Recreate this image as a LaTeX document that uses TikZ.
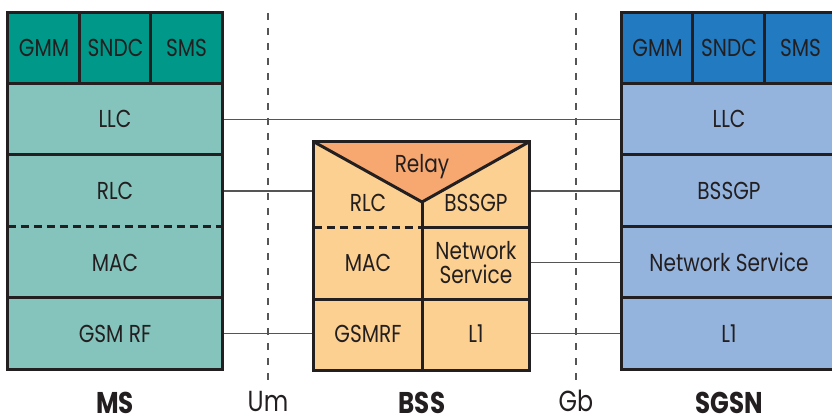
\documentclass[tikz,border=0pt]{standalone}
\usepackage{fontspec}
\setmainfont{Poppins}[FakeStretch=0.82]
\definecolor{msdark}{RGB}{0,152,136}
\definecolor{mslight}{RGB}{133,196,189}
\definecolor{sgdark}{RGB}{34,122,192}
\definecolor{sglight}{RGB}{148,180,222}
\definecolor{bssfill}{RGB}{252,208,144}
\definecolor{relayfill}{RGB}{246,168,112}
\definecolor{ink}{RGB}{35,31,32}
\definecolor{wire}{RGB}{85,85,85}
\tikzset{
  cell/.style={rectangle, inner sep=0pt, text=ink, minimum height=71pt},
  txt/.style={inner sep=0pt, text=ink},
  frame/.style={draw=ink, line width=3pt},
  split/.style={draw=ink, line width=3pt, dash pattern=on 8pt off 5pt},
  link/.style={draw=wire, line width=1.2pt},
  iface/.style={draw=wire, line width=1.3pt, dash pattern=on 7pt off 8pt},
  ifacelabel/.style={inner sep=0pt, text=ink, anchor=base, font=\fontsize{29}{31}\selectfont},
  title/.style={inner sep=0pt, text=ink, anchor=base, font=\fontsize{30}{32}\selectfont\bfseries},
}
\begin{document}
\begin{tikzpicture}[x=1pt, y=-1pt, font=\fontsize{24.5}{24}\selectfont]
\useasboundingbox (0,0) rectangle (832,414);
\clip (0,0) rectangle (832,414);

% ---------- MS protocol stack ----------
\node[cell, fill=msdark, minimum width=72pt]  (ms-gmm)  at (44,48)    {GMM};
\node[cell, fill=msdark, minimum width=71pt]  (ms-sndc) at (115.5,48) {SNDC};
\node[cell, fill=msdark, minimum width=71pt]  (ms-sms)  at (186.5,48) {SMS};
\node[cell, fill=mslight, minimum width=214pt, minimum height=71.5pt] (ms-llc)   at (115,119.25) {LLC};
\node[cell, fill=mslight, minimum width=214pt, minimum height=72pt]   (ms-rlc)   at (115,191)    {RLC};
\node[cell, fill=mslight, minimum width=214pt]                        (ms-mac)   at (115,262.5)  {MAC};
\node[cell, fill=mslight, minimum width=214pt, minimum height=71.5pt] (ms-gsmrf) at (115,333.75) {GSM RF};

% ---------- SGSN protocol stack ----------
\node[cell, fill=sgdark, minimum width=71pt]  (sg-gmm)  at (657.5,48) {GMM};
\node[cell, fill=sgdark, minimum width=72pt]  (sg-sndc) at (729,48)   {SNDC};
\node[cell, fill=sgdark, minimum width=71pt]  (sg-sms)  at (800.5,48) {SMS};
\node[cell, fill=sglight, minimum width=214pt, minimum height=71.5pt] (sg-llc)   at (729,119.25) {LLC};
\node[cell, fill=sglight, minimum width=214pt, minimum height=72pt]   (sg-bssgp) at (729,191)    {BSSGP};
\node[cell, fill=sglight, minimum width=214pt]                        (sg-ns)    at (729,262.5)  {Network Service};
\node[cell, fill=sglight, minimum width=214pt, minimum height=71.5pt] (sg-l1)    at (729,333.75) {L1};

% ---------- BSS relay stack ----------
\node[rectangle, inner sep=0pt, fill=bssfill, minimum width=215pt, minimum height=228pt] (bss) at (421.5,256) {};
\coordinate (apex) at (422,202);
\coordinate (bss-r1) at (422,227);
\coordinate (bss-r2) at (422,299);
\fill[relayfill] (bss.north west) -- (bss.north east) -- (apex) -- cycle;
\node[txt] (bss-relay) at (422,167) {Relay};
\node[txt] (bss-rlc)   at (368,203) {RLC};
\node[txt] (bss-bssgp) at (476,203) {BSSGP};
\node[txt] (bss-mac)   at (368,263) {MAC};
\node[txt, align=center] (bss-ns) at (476,263) {Network\\Service};
\node[txt] (bss-gsmrf) at (368,334) {GSMRF};
\node[txt] (bss-l1)    at (476,334) {L1};

% ---------- peer links ----------
\draw[link] (ms-llc.east) -- (sg-llc.west);
\draw[link] (ms-rlc.east) -- (ms-rlc.east -| bss.west);
\draw[link] (sg-bssgp.west) -- (sg-bssgp.west -| bss.east);
\draw[link] (sg-ns.west) -- (sg-ns.west -| bss.east);
\draw[link] (ms-gsmrf.east) -- (ms-gsmrf.east -| bss.west);
\draw[link] (sg-l1.west) -- (sg-l1.west -| bss.east);

% ---------- interfaces ----------
\coordinate (um-top) at (268,13);
\coordinate (um-bot) at (268,380);
\coordinate (gb-top) at (576,13);
\coordinate (gb-bot) at (576,380);
\draw[iface] (um-top) -- (um-bot);
\draw[iface] (gb-top) -- (gb-bot);
\node[ifacelabel] (um) at (268,411.5) {Um};
\node[ifacelabel] (gb) at (576,411.5) {Gb};

% ---------- frames: MS ----------
\draw[frame] (ms-gmm.north west) rectangle (ms-gsmrf.south east);
\draw[frame] (ms-sndc.north west) -- (ms-sndc.south west);
\draw[frame] (ms-sms.north west) -- (ms-sms.south west);
\draw[frame] (ms-llc.north west) -- (ms-llc.north east);
\draw[frame] (ms-rlc.north west) -- (ms-rlc.north east);
\draw[split] (ms-mac.north west) -- (ms-mac.north east);
\draw[frame] (ms-gsmrf.north west) -- (ms-gsmrf.north east);

% ---------- frames: SGSN ----------
\draw[frame] (sg-gmm.north west) rectangle (sg-l1.south east);
\draw[frame] (sg-sndc.north west) -- (sg-sndc.south west);
\draw[frame] (sg-sms.north west) -- (sg-sms.south west);
\draw[frame] (sg-llc.north west) -- (sg-llc.north east);
\draw[frame] (sg-bssgp.north west) -- (sg-bssgp.north east);
\draw[frame] (sg-ns.north west) -- (sg-ns.north east);
\draw[frame] (sg-l1.north west) -- (sg-l1.north east);

% ---------- frames: BSS ----------
\draw[frame] (bss.north west) rectangle (bss.south east);
\draw[frame, line join=miter] (bss.north west) -- (apex) -- (bss.north east);
\draw[frame] (apex) -- (apex |- bss.south);
\draw[split] (bss-r1 -| bss.west) -- (bss-r1);
\draw[frame] (bss-r1) -- (bss-r1 -| bss.east);
\draw[frame] (bss-r2 -| bss.west) -- (bss-r2 -| bss.east);

% ---------- node titles ----------
\node[title] (ms-title)   at (115,413) {MS};
\node[title] (bss-title)  at (422,413) {BSS};
\node[title] (sgsn-title) at (729,413) {SGSN};
\end{tikzpicture}
\end{document}
